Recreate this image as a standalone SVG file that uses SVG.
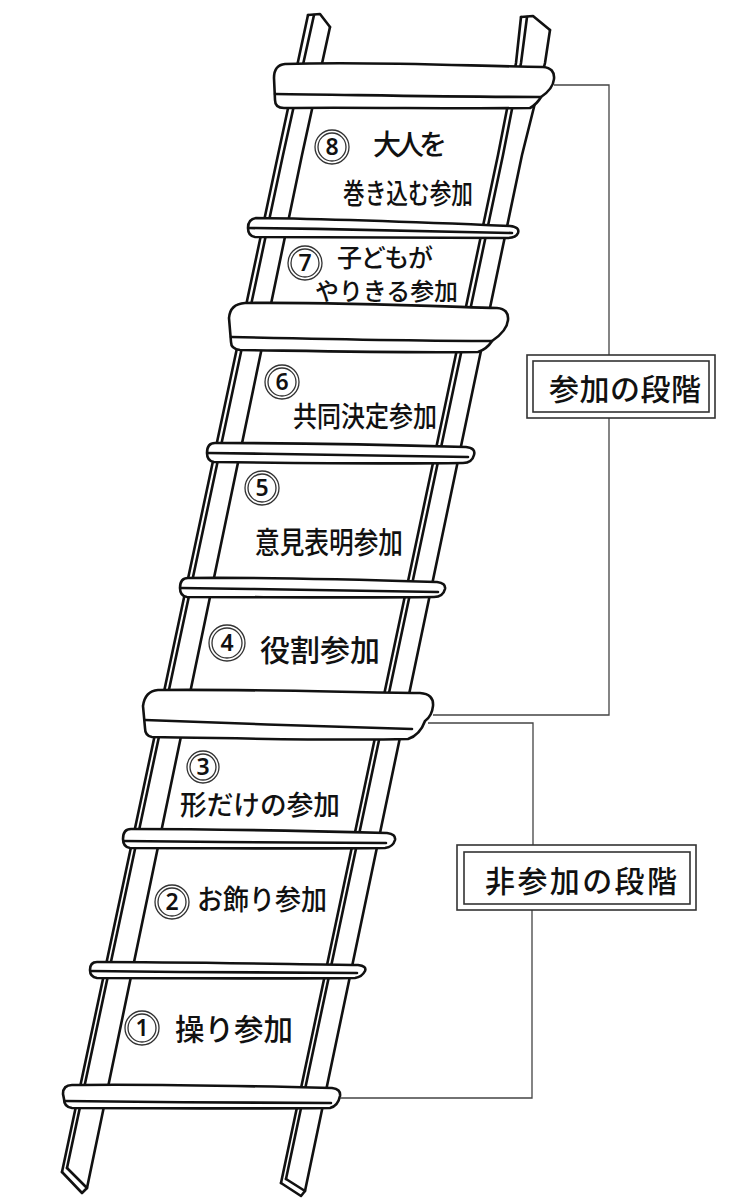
<svg xmlns="http://www.w3.org/2000/svg" width="740" height="1200" viewBox="0 0 740 1200">
  <style>
    .ln { fill: none; stroke: #111; stroke-width: 2.6; stroke-linecap: round; stroke-linejoin: round; }
    .rung { fill: #fff; stroke: #111; stroke-width: 2.6; stroke-linecap: round; stroke-linejoin: round; }
    .conn { fill: none; stroke: #444; stroke-width: 1.3; }
    .box { fill: #fff; stroke: #333; stroke-width: 1.6; }
    .txt { font-family: "Noto Sans CJK JP", "Noto Sans", sans-serif; font-weight: 500; fill: #111; }
    .num { font-family: "Noto Sans", "DejaVu Sans", sans-serif; font-weight: 600; fill: #111; font-size: 23px; text-anchor: middle; }
    .ring { fill: #fff; stroke: #333; stroke-width: 1.3; }
  </style>
  <rect width="740" height="1200" fill="#fff"/>

  <!-- ladder rails (drawn first, rungs cover them) -->
  <g id="rails" class="ln">
    <!-- left rail -->
    <path d="M308,15 L320,14 L330,27"/>
    <path d="M308,15 L278,155 L62,1172"/>
    <path d="M314,15 L283,155 L67,1168"/>
    <path d="M330,27 L302,155 L87,1188"/>
    <path d="M62,1172 L82,1193 L87,1188 M67,1168 L87,1188"/>
    <!-- right rail -->
    <path d="M521,17 L533,16 L550,30"/>
    <path d="M521,17 L516,63 L498,155 L281,1183"/>
    <path d="M527,17 L521,63 L503,155 L286,1179"/>
    <path d="M550,30 L545,63 L522,155 L305,1191"/>
    <path d="M281,1183 L301,1196 L305,1191 M286,1179 L305,1191"/>
  </g>

  <!-- rungs -->
  <g id="rungs">
    <g id="rung-top">
      <path class="rung" d="M285,64 C370,61 470,66 543,67 Q555,68 554,79 Q553,89 541,97 Q537,104 530,108 C450,109 360,107 284,108 Q275,108 275,100 L274,78 Q274,65 285,64 Z"/>
      <path class="ln" d="M275,94 C360,95 460,97 541,97"/>
    </g>
    <g id="rung-7-8">
      <path class="rung" d="M256,218 C340,219 440,223 510,226 Q520,227 518,233 Q516,238 507,238 C430,238 330,237 255,237 Q248,236 248,228 Q248,219 256,218 Z"/>
      <path class="ln" d="M249,228 C340,229 440,231 512,233"/>
    </g>
    <g id="rung-6-7">
      <path class="rung" d="M245,303 C330,302 430,306 497,308 Q509,309 508,320 Q507,331 492,341 Q487,349 478,352 C400,353 310,351 240,350 Q231,349 231,342 L229,318 Q230,304 245,303 Z"/>
      <path class="ln" d="M231,337 C320,339 420,341 492,341"/>
    </g>
    <g id="rung-5-6">
      <path class="rung" d="M215,443 C300,443 400,445 466,447 Q476,448 474,455 Q472,463 463,463 C390,464 290,463 214,462 Q207,461 207,453 Q207,443 215,443 Z"/>
      <path class="ln" d="M208,453 C300,454 400,456 468,457"/>
    </g>
    <g id="rung-4-5">
      <path class="rung" d="M188,578 C270,577 370,580 437,582 Q446,583 445,589 Q443,597 434,597 C360,598 260,597 187,597 Q180,596 180,588 Q180,578 188,578 Z"/>
      <path class="ln" d="M181,588 C270,589 370,591 438,592"/>
    </g>
    <g id="rung-mid">
      <path class="rung" d="M158,690 C240,689 340,692 420,693 Q434,694 433,706 Q432,716 425,721 Q420,735 408,739 C330,741 230,738 152,737 Q145,736 145,728 L143,706 Q145,691 158,690 Z"/>
      <path class="ln" d="M145,720 C230,723 330,727 412,729"/>
    </g>
    <g id="rung-2-3">
      <path class="rung" d="M131,829 C210,829 310,831 387,833 Q396,834 395,840 Q393,847 385,848 C310,849 210,848 130,848 Q123,847 123,839 Q123,829 131,829 Z"/>
      <path class="ln" d="M124,841 C210,842 310,843 386,843"/>
    </g>
    <g id="rung-1-2">
      <path class="rung" d="M97,962 C180,962 280,964 358,965 Q367,966 365,971 Q362,977 355,978 C280,979 180,978 97,978 Q90,977 90,970 Q90,962 97,962 Z"/>
      <path class="ln" d="M91,971 C180,972 280,973 357,973"/>
    </g>
    <g id="rung-bottom">
      <path class="rung" d="M72,1085 C150,1084 250,1086 332,1088 Q341,1089 340,1096 Q338,1106 330,1108 C250,1109 150,1108 72,1108 Q64,1107 64,1099 L63,1094 Q63,1085 72,1085 Z"/>
      <path class="ln" d="M65,1101 C150,1102 250,1103 331,1103"/>
    </g>
  </g>

  <!-- bracket connectors -->
  <g id="connectors" class="conn">
    <path d="M554,85 H609 V355"/>
    <path d="M609,418 V715 H433"/>
    <path d="M428,723 H533 V845"/>
    <path d="M532,910 V1098 H340"/>
  </g>

  <!-- steps -->
  <g id="step8">
    <circle class="ring" cx="332" cy="147" r="17"/>
    <circle class="ring" cx="332" cy="147" r="14"/>
    <text class="num" x="332" y="155">8</text>
    <text class="txt" x="373" y="155" font-size="28" textLength="74">大人を</text>
    <text class="txt" x="343" y="204" font-size="28" textLength="130" lengthAdjust="spacingAndGlyphs">巻き込む参加</text>
  </g>
  <g id="step7">
    <circle class="ring" cx="305" cy="263" r="17"/>
    <circle class="ring" cx="305" cy="263" r="14"/>
    <text class="num" x="305" y="271">7</text>
    <text class="txt" x="337" y="267" font-size="25" textLength="96">子どもが</text>
    <text class="txt" x="315" y="300" font-size="24" textLength="143" lengthAdjust="spacingAndGlyphs">やりきる参加</text>
  </g>
  <g id="step6">
    <circle class="ring" cx="282" cy="382" r="17"/>
    <circle class="ring" cx="282" cy="382" r="14"/>
    <text class="num" x="282" y="390">6</text>
    <text class="txt" x="293" y="427" font-size="28" textLength="144" lengthAdjust="spacingAndGlyphs">共同決定参加</text>
  </g>
  <g id="step5">
    <circle class="ring" cx="262" cy="488" r="17"/>
    <circle class="ring" cx="262" cy="488" r="14"/>
    <text class="num" x="262" y="496">5</text>
    <text class="txt" x="255" y="553" font-size="30" textLength="148" lengthAdjust="spacingAndGlyphs">意見表明参加</text>
  </g>
  <g id="step4">
    <circle class="ring" cx="227" cy="643" r="18"/>
    <circle class="ring" cx="227" cy="643" r="15"/>
    <text class="num" x="227" y="651">4</text>
    <text class="txt" x="260" y="661" font-size="30" textLength="120" lengthAdjust="spacingAndGlyphs">役割参加</text>
  </g>
  <g id="step3">
    <circle class="ring" cx="203" cy="767" r="16"/>
    <circle class="ring" cx="203" cy="767" r="13"/>
    <text class="num" x="203" y="775">3</text>
    <text class="txt" x="180" y="815" font-size="27" textLength="160" lengthAdjust="spacingAndGlyphs">形だけの参加</text>
  </g>
  <g id="step2">
    <circle class="ring" cx="172" cy="902" r="17"/>
    <circle class="ring" cx="172" cy="902" r="14"/>
    <text class="num" x="172" y="910">2</text>
    <text class="txt" x="197" y="910" font-size="28" textLength="130" lengthAdjust="spacingAndGlyphs">お飾り参加</text>
  </g>
  <g id="step1">
    <circle class="ring" cx="142" cy="1028" r="17"/>
    <circle class="ring" cx="142" cy="1028" r="14"/>
    <text class="num" x="142" y="1036">1</text>
    <text class="txt" x="175" y="1040" font-size="30" textLength="118" lengthAdjust="spacingAndGlyphs">操り参加</text>
  </g>

  <!-- stage labels -->
  <g id="label-participation">
    <rect class="box" x="527" y="355" width="188" height="63"/>
    <rect class="box" x="533" y="361" width="176" height="51"/>
    <text class="txt" x="549" y="400" font-size="30" textLength="152">参加の段階</text>
  </g>
  <g id="label-nonparticipation">
    <rect class="box" x="457" y="845" width="239" height="65"/>
    <rect class="box" x="464" y="852" width="226" height="52"/>
    <text class="txt" x="485" y="892" font-size="30" textLength="192">非参加の段階</text>
  </g>
</svg>
